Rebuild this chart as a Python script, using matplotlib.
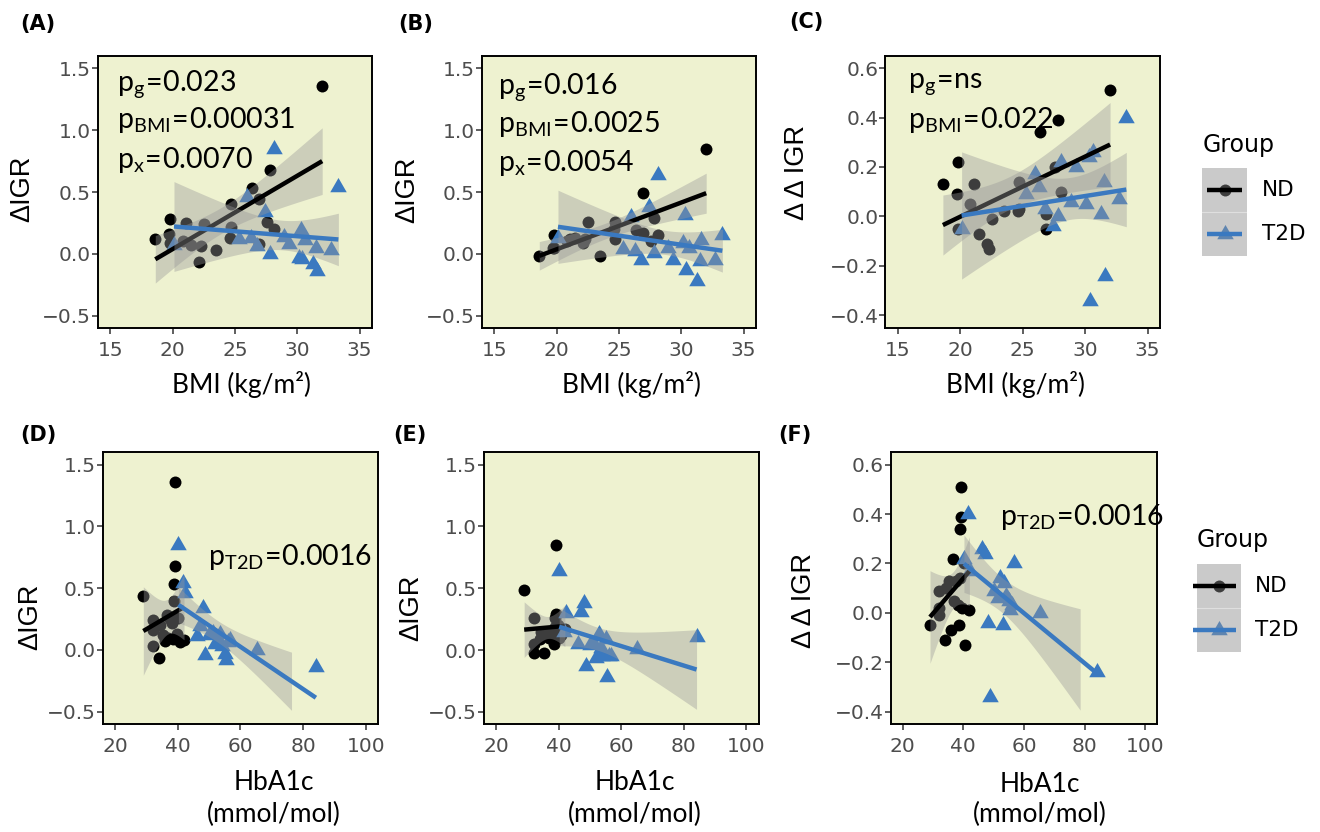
import math
import numpy as np
import matplotlib
matplotlib.use("Agg")
import matplotlib.pyplot as plt
from matplotlib.patches import Rectangle
from matplotlib.lines import Line2D

plt.rcParams['mathtext.default'] = 'regular'
plt.rcParams['font.family'] = ['DejaVu Sans']

# ---------------- data (one entry per subject) ----------------
groups = ["ND", "T2D"]

bmi_nd = [32.0, 27.85, 26.4, 26.9, 24.7, 19.8, 27.6, 21.1, 22.5, 24.7, 28.1,
          19.7, 24.6, 18.6, 20.8, 19.8, 26.9, 21.5, 22.3, 23.5, 22.1]
hba1c_nd = [39.1, 39.1, 38.8, 29.0, 38.8, 36.5, 40.2, 37.6, 32.0, 38.1, 34.4,
            32.0, 39.7, 35.4, 37.0, 38.6, 42.0, 36.0, 40.7, 32.0, 34.1]
igr1_nd = [1.36, 0.68, 0.53, 0.44, 0.40, 0.28, 0.26, 0.25, 0.24, 0.22, 0.20,
           0.16, 0.13, 0.12, 0.10, 0.09, 0.08, 0.075, 0.06, 0.03, -0.065]
igr2_nd = [0.85, 0.29, 0.19, 0.49, 0.26, 0.15, 0.10, 0.12, 0.26, 0.12, 0.15,
           0.05, 0.20, -0.02, 0.10, 0.05, 0.17, 0.13, 0.12, -0.02, 0.09]
digr_nd = [0.51, 0.39, 0.34, -0.05, 0.14, 0.22, 0.20, 0.13, -0.01, 0.03, 0.10,
           0.09, 0.02, 0.13, 0.05, -0.05, 0.01, -0.07, -0.13, 0.02, -0.11]

bmi_t2d = [28.1, 33.3, 26.0, 27.4, 20.1, 25.3, 26.3, 26.8, 27.8, 28.9, 30.3,
           30.6, 30.1, 30.4, 31.3, 31.6, 31.5, 32.7, 29.3]
hba1c_t2d = [40.2, 41.6, 42.3, 48.0, 53.0, 50.0, 53.5, 56.0, 65.2, 51.4, 47.1,
             46.1, 55.1, 48.7, 55.4, 84.1, 52.0, 54.0, 56.7]
igr1_t2d = [0.85, 0.54, 0.46, 0.34, 0.07, 0.12, 0.13, 0.06, 0.00, 0.14, 0.19,
            0.11, -0.03, -0.04, -0.08, -0.14, 0.05, 0.03, 0.08]
igr2_t2d = [0.64, 0.15, 0.30, 0.38, 0.13, 0.04, 0.02, -0.05, 0.01, 0.05, 0.31,
            0.05, 0.09, -0.13, -0.22, 0.11, -0.06, -0.05, -0.05]
digr_t2d = [0.22, 0.40, 0.17, -0.04, -0.05, 0.09, 0.12, 0.03, 0.00, 0.06, 0.24,
            0.26, 0.05, -0.34, 0.01, -0.24, 0.14, 0.07, 0.20]

bmi_ticks = [15, 20, 25, 30, 35]
hba1c_ticks = [20, 40, 60, 80, 100]
igr_ticks = [-0.5, 0.0, 0.5, 1.0, 1.5]
digr_ticks = [-0.4, -0.2, 0.0, 0.2, 0.4, 0.6]

panel_letters = ["(A)", "(B)", "(C)", "(D)", "(E)", "(F)"]
annotations = {
    "A": [r"$p_{g}\!=\!0.023$", r"$p_{BMI}\!=\!0.00031$", r"$p_{x}\!=\!0.0070$"],
    "B": [r"$p_{g}\!=\!0.016$", r"$p_{BMI}\!=\!0.0025$", r"$p_{x}\!=\!0.0054$"],
    "C": [r"$p_{g}\!=\!ns$", r"$p_{BMI}\!=\!0.022$"],
    "D": [r"$p_{T2D}\!=\!0.0016$"],
    "E": [],
    "F": [r"$p_{T2D}\!=\!0.0016$"],
}

# ---------------- style ----------------
W, H = 1320, 832
BG = "#EEF2D0"
BLUE = "#3A79C0"
RIB = "#999999"
TRI = [(0, 1.5551), (1.3468, -0.7776), (-1.3468, -0.7776)]
S_CIRC = 8.6 ** 2
S_TRI = 13.7 ** 2

fig = plt.figure(figsize=(W / 100, H / 100), dpi=100)


def fx(x):
    return x / W


def fy(y):
    return 1 - y / H


def t_quantile(df, p=0.975):
    c = math.exp(math.lgamma((df + 1) / 2) - math.lgamma(df / 2)) / math.sqrt(df * math.pi)

    def cdf(t):
        xs = np.linspace(0, t, 4001)
        ys = c * (1 + xs ** 2 / df) ** (-(df + 1) / 2)
        return 0.5 + np.trapezoid(ys, xs)

    lo, hi = 0.0, 10.0
    for _ in range(60):
        mid = (lo + hi) / 2
        if cdf(mid) < p:
            lo = mid
        else:
            hi = mid
    return (lo + hi) / 2


def smooth(ax, x, y, color, lims, z):
    x = np.asarray(x, float)
    y = np.asarray(y, float)
    n = len(x)
    b1, b0 = np.polyfit(x, y, 1)
    xg = np.linspace(x.min(), x.max(), 80)
    yg = b0 + b1 * xg
    resid = y - (b0 + b1 * x)
    s = np.sqrt(np.sum(resid ** 2) / (n - 2))
    sxx = np.sum((x - x.mean()) ** 2)
    se = s * np.sqrt(1 / n + (xg - x.mean()) ** 2 / sxx)
    t = t_quantile(n - 2)
    lo, hi = yg - t * se, yg + t * se
    ok = (lo >= lims[0]) & (hi <= lims[1])
    ax.fill_between(xg, lo, hi, where=ok, color=RIB, alpha=0.4, linewidth=0, zorder=z)
    ax.plot(xg, yg, color=color, lw=3.2, zorder=z + 0.1, solid_capstyle="butt")


def fmt(v, nd=1):
    s = f"{abs(v):.{nd}f}"
    return ("\u2212" + s) if v < 0 else s


def make_panel(box, xnd, ynd, xt, yt, xticks, yticks, xlim, ylim, lims):
    L, T, R, B = box
    ax = fig.add_axes([L / W, 1 - B / H, (R - L) / W, (B - T) / H])
    ax.set_facecolor(BG)
    for sp in ax.spines.values():
        sp.set_linewidth(1.4)
        sp.set_color("black")
    ax.scatter(xnd, ynd, s=S_CIRC, marker="o", color="black", linewidths=0, zorder=2)
    ax.scatter(xt, yt, s=S_TRI, marker=TRI, color=BLUE, linewidths=0, zorder=2.1)
    smooth(ax, xnd, ynd, "black", lims, 3)
    smooth(ax, xt, yt, BLUE, lims, 4)
    ax.set_xlim(*xlim)
    ax.set_ylim(*ylim)
    ax.set_xticks(xticks)
    ax.set_xticklabels([str(v) for v in xticks])
    ax.set_yticks(yticks)
    ax.set_yticklabels([fmt(v) for v in yticks])
    ax.tick_params(axis="both", direction="out", length=4.0, width=1.1,
                   color="#333333", labelcolor="#4D4D4D", labelsize=14.5)
    ax.tick_params(axis="x", pad=5.5)
    ax.tick_params(axis="y", pad=1.0)
    return ax


boxes = {
    "A": (98, 56, 372, 328),
    "B": (482, 56, 756, 328),
    "C": (885.5, 55.7, 1160, 327.7),
    "D": (102.6, 452.3, 378.2, 724),
    "E": (483.5, 452.3, 758.8, 724.3),
    "F": (890.6, 452.3, 1157.3, 724),
}

igr_view = (-0.6, 1.6)
digr_view = (-0.45, 0.65)
bmi_view = (14, 36)
hb_view = (16, 104)

make_panel(boxes["A"], bmi_nd, igr1_nd, bmi_t2d, igr1_t2d, bmi_ticks, igr_ticks, bmi_view, igr_view, (-0.5, 1.5))
make_panel(boxes["B"], bmi_nd, igr2_nd, bmi_t2d, igr2_t2d, bmi_ticks, igr_ticks, bmi_view, igr_view, (-0.5, 1.5))
make_panel(boxes["C"], bmi_nd, digr_nd, bmi_t2d, digr_t2d, bmi_ticks, digr_ticks, bmi_view, digr_view, (-0.4, 0.6))
make_panel(boxes["D"], hba1c_nd, igr1_nd, hba1c_t2d, igr1_t2d, hba1c_ticks, igr_ticks, hb_view, igr_view, (-0.5, 1.5))
make_panel(boxes["E"], hba1c_nd, igr2_nd, hba1c_t2d, igr2_t2d, hba1c_ticks, igr_ticks, hb_view, igr_view, (-0.5, 1.5))
make_panel(boxes["F"], hba1c_nd, digr_nd, hba1c_t2d, digr_t2d, hba1c_ticks, digr_ticks, hb_view, digr_view, (-0.4, 0.6))

# ---------------- annotations (pixel positions, baselines) ----------------
ann_pos = {
    "A": (116.7, [90, 128.3, 168.3]),
    "B": (498.3, [93.3, 131.7, 170.7]),
    "C": (908.3, [87.3, 128.3]),
    "D": (208.3, [565]),
    "E": (0, []),
    "F": (1000, [525]),
}
for k, (x0, ys) in ann_pos.items():
    for txt, yb in zip(annotations[k], ys):
        fig.text(fx(x0), fy(yb), txt, fontsize=20.5, family="Lato",
                 ha="left", va="baseline", color="black")

# panel letters
letter_pos = [(20.5, 24), (398, 24), (789, 22), (20.5, 435), (393, 435), (778, 435)]
for lab, (x, y) in zip(panel_letters, letter_pos):
    fig.text(fx(x), fy(y), lab, fontsize=15, fontweight="bold", ha="left", va="center")

# y labels (centres in px)
ylabels = {
    "A": ("\u0394IGR", 22.5, 189),
    "B": ("\u0394IGR", 407, 190),
    "C": ("\u0394 \u0394 IGR", 797.5, 172.5),
    "D": ("\u0394IGR", 30, 616.7),
    "E": ("\u0394IGR", 411, 608),
    "F": ("\u0394 \u0394 IGR", 804, 600),
}
for k, (txt, x, y) in ylabels.items():
    fig.text(fx(x), fy(y), txt, rotation=90, ha="center", va="center",
             fontsize=19.5, family="Liberation Sans", color="black")

# x labels
xl_top = [(241.7, 393), (631.7, 393), (1015.7, 393)]
for x, yb in xl_top:
    fig.text(fx(x), fy(yb), "BMI (kg/m\u00b2)", ha="center", va="baseline",
             fontsize=19, family="Lato")
xl_bot = [(274.3, 790, 822), (635, 790, 822), (1040, 791.7, 822)]
for x, y1, y2 in xl_bot:
    fig.text(fx(x), fy(y1), "HbA1c", ha="center", va="baseline", fontsize=19, family="Lato")
    fig.text(fx(x), fy(y2), "(mmol/mol)", ha="center", va="baseline", fontsize=19, family="Lato")


# ---------------- legends ----------------
def legend(title_x, title_base, box_l, box_t, box_r, line_l, line_r, lab_x):
    keyh = 44
    specs = [(groups[0], "black", "o", 8.6), (groups[1], BLUE, TRI, 13.7)]
    for i, (lab, col, mk, ms) in enumerate(specs):
        top = box_t + i * keyh
        cy = top + keyh / 2
        fig.add_artist(Rectangle((fx(box_l), fy(top + keyh)), (box_r - box_l) / W, keyh / H,
                                 transform=fig.transFigure, facecolor="#EBEBEB",
                                 edgecolor="none", zorder=1))
        fig.add_artist(Line2D([fx((box_l + box_r) / 2)], [fy(cy)], transform=fig.transFigure,
                              marker=mk, markersize=ms, markerfacecolor=col,
                              markeredgewidth=0, linestyle="none", zorder=2))
        fig.add_artist(Rectangle((fx(box_l), fy(top + keyh)), (box_r - box_l) / W, keyh / H,
                                 transform=fig.transFigure, facecolor=RIB, alpha=0.4,
                                 edgecolor="none", zorder=3))
        fig.add_artist(Line2D([fx(line_l), fx(line_r)], [fy(cy), fy(cy)],
                              transform=fig.transFigure, color=col, lw=3.2,
                              solid_capstyle="butt", zorder=4))
        fig.text(fx(lab_x), fy(cy), lab, ha="left", va="center", fontsize=15.5)
    fig.add_artist(Line2D([fx(box_l), fx(box_r)], [fy(box_t + keyh)] * 2,
                          transform=fig.transFigure, color="white", lw=0.8,
                          alpha=0.4, zorder=5))
    fig.text(fx(title_x), fy(title_base), "Group", ha="left", va="baseline", fontsize=17)


legend(1203, 151.7, 1202.3, 167.7, 1246.7, 1206.7, 1242.3, 1261.7)
legend(1197, 546.7, 1197.3, 564, 1240.7, 1192.7, 1236, 1255)

fig.savefig("out.png", dpi=100, facecolor="white")
